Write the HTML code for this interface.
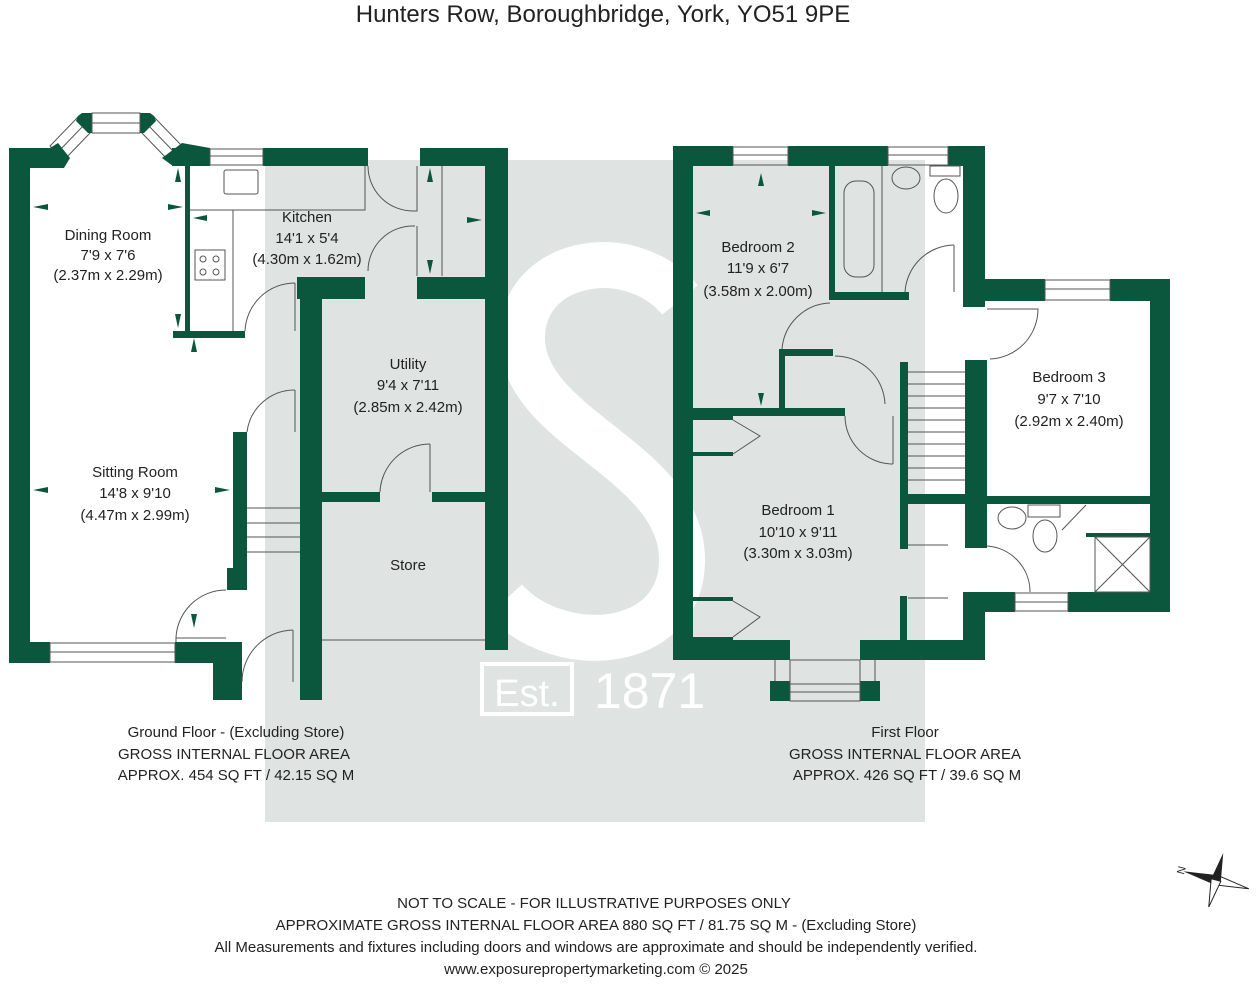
<!DOCTYPE html>
<html><head><meta charset="utf-8"><style>
html,body{margin:0;padding:0;background:#fff;}
svg{display:block;}
text{font-family:"Liberation Sans",sans-serif;fill:#222;}
</style></head><body>
<svg width="1256" height="984" viewBox="0 0 1256 984" xmlns="http://www.w3.org/2000/svg">
<!-- watermark -->
<rect x="265" y="160" width="660" height="662" fill="#dfe3e1"/>
<path d="M680 300 C630 240 520 260 522 340 C525 430 682 460 682 560 C682 650 560 660 505 600" fill="none" stroke="#fff" stroke-width="46"/>
<rect x="482" y="664" width="90" height="50" fill="none" stroke="#fff" stroke-width="4"/>
<text x="527" y="706" font-size="38" text-anchor="middle" style="fill:#fff">Est.</text>
<text x="594" y="708" font-size="50" style="fill:#fff">1871</text>

<text x="603" y="22" font-size="24" text-anchor="middle">Hunters Row, Boroughbridge, York, YO51 9PE</text>

<!-- bay windows -->
<g fill="#fff" stroke="#555" stroke-width="1">
<polygon points="50,146 78,117 92,131 64,160"/>
<line x1="57" y1="153" x2="85" y2="124"/>
<polygon points="182,146 154,117 140,131 168,160"/>
<line x1="175" y1="153" x2="147" y2="124"/>
</g>

<g fill="#0a573d">
<!-- ground floor -->
<rect x="9" y="148" width="21" height="515"/>
<polygon points="9,148 50,148 58,143 70,158 64,168 9,168"/>
<polygon points="78,116 82,113 92,113 92,133 88,133 76,121"/>
<polygon points="154,116 150,113 140,113 140,133 144,133 156,121"/>
<polygon points="182,143 210,148 210,166 173,166 162,158"/>
<rect x="9" y="642" width="41" height="21"/>
<rect x="175" y="642" width="58" height="21"/>
<rect x="213" y="642" width="29" height="58"/>
<rect x="172" y="148" width="38" height="18"/>
<rect x="263" y="148" width="105" height="18"/>
<rect x="185" y="165" width="5" height="168"/>
<rect x="173" y="331" width="72" height="7"/>
<rect x="420" y="148" width="88" height="18"/>
<rect x="485" y="148" width="23" height="502"/>
<rect x="297" y="277" width="68" height="22"/>
<rect x="417" y="277" width="70" height="22"/>
<rect x="300" y="277" width="22" height="423"/>
<rect x="322" y="492" width="58" height="10"/>
<rect x="432" y="492" width="55" height="10"/>
<rect x="233" y="432" width="14" height="158"/>
<rect x="227" y="568" width="14" height="22"/>
<!-- first floor -->
<rect x="673" y="146" width="20" height="514"/>
<rect x="673" y="146" width="60" height="20"/>
<rect x="788" y="146" width="100" height="20"/>
<rect x="948" y="146" width="37" height="20"/>
<rect x="963" y="146" width="22" height="161"/>
<rect x="963" y="279" width="82" height="22"/>
<rect x="1110" y="279" width="60" height="22"/>
<rect x="1150" y="279" width="20" height="333"/>
<rect x="963" y="592" width="52" height="20"/>
<rect x="1068" y="592" width="102" height="20"/>
<rect x="965" y="360" width="22" height="188"/>
<rect x="963" y="592" width="22" height="68"/>
<rect x="987" y="496" width="163" height="8"/>
<rect x="673" y="640" width="117" height="20"/>
<rect x="860" y="640" width="125" height="20"/>
<rect x="770" y="681" width="20" height="20"/>
<rect x="860" y="681" width="20" height="20"/>
<rect x="693" y="408" width="152" height="8"/>
<rect x="779" y="349" width="6" height="63"/>
<rect x="779" y="349" width="54" height="7"/>
<rect x="829" y="166" width="6" height="134"/>
<rect x="829" y="292" width="80" height="8"/>
<rect x="900" y="362" width="8" height="187"/>
<rect x="900" y="494" width="65" height="10"/>
<rect x="900" y="596" width="7" height="44"/>
<rect x="693" y="416" width="40" height="4"/>
<rect x="693" y="452" width="40" height="4"/>
<rect x="693" y="597" width="40" height="4"/>
<rect x="693" y="637" width="40" height="4"/>
<rect x="1086" y="533" width="64" height="4"/>
</g>

<g fill="none" stroke="#555" stroke-width="1">
<!-- windows -->
<rect x="50" y="643" width="125" height="19"/><line x1="50" y1="652" x2="175" y2="652"/>
<rect x="92" y="113" width="48" height="20"/><line x1="92" y1="123" x2="140" y2="123"/>
<rect x="210" y="149" width="53" height="16"/><line x1="210" y1="156" x2="263" y2="156"/>
<rect x="733" y="147" width="55" height="18"/><line x1="733" y1="155" x2="788" y2="155"/>
<rect x="888" y="147" width="60" height="18"/><line x1="888" y1="155" x2="948" y2="155"/>
<rect x="1045" y="280" width="65" height="20"/><line x1="1045" y1="289" x2="1110" y2="289"/>
<rect x="1015" y="593" width="53" height="18"/><line x1="1015" y1="602" x2="1068" y2="602"/>
<rect x="790" y="660" width="70" height="41"/><line x1="790" y1="684" x2="860" y2="684"/><line x1="790" y1="692" x2="860" y2="692"/>
<line x1="775" y1="660" x2="775" y2="681"/><line x1="875" y1="660" x2="875" y2="681"/>
<!-- kitchen -->
<path d="M190 210 H365 V166"/><path d="M233 210 V331"/>
<rect x="224" y="170" width="34" height="24" rx="2"/>
<rect x="195" y="250" width="30" height="30"/>
<circle cx="203" cy="259" r="3"/><circle cx="216" cy="259" r="3"/><circle cx="203" cy="272" r="3"/><circle cx="216" cy="272" r="3"/>
<path d="M368 166 A45 45 0 0 0 413 211 H417 V166"/>
<path d="M415 226 A45 45 0 0 0 368 271 M417 226 V276"/>
<path d="M295 283 A50 50 0 0 0 245 331"/><line x1="295" y1="283" x2="295" y2="331"/>
<line x1="442" y1="166" x2="442" y2="276"/>
<path d="M295 390 A48 48 0 0 0 247 432"/><line x1="295" y1="390" x2="295" y2="432"/>
<path d="M430 444 A50 50 0 0 0 380 492"/><line x1="430" y1="444" x2="430" y2="492"/>
<line x1="322" y1="640" x2="485" y2="640"/>
<path d="M226 590 A50 50 0 0 0 176 642"/><line x1="176" y1="638" x2="226" y2="638"/>
<path d="M293 630 A52 52 0 0 0 242 682"/><line x1="293" y1="630" x2="293" y2="682"/>
<line x1="247" y1="508" x2="300" y2="508"/><line x1="247" y1="523" x2="300" y2="523"/><line x1="247" y1="537" x2="300" y2="537"/><line x1="247" y1="552" x2="300" y2="552"/>
<!-- first floor fixtures -->
<rect x="844" y="181" width="30" height="96" rx="12"/><line x1="882" y1="166" x2="882" y2="292"/>
<ellipse cx="906" cy="178" rx="14" ry="11"/>
<rect x="930" y="166" width="30" height="10"/><ellipse cx="946" cy="196" rx="12" ry="17"/>
<path d="M954 245 A50 50 0 0 0 905 292"/><line x1="954" y1="245" x2="954" y2="292"/>
<path d="M830 303 A50 50 0 0 0 782 349"/>
<path d="M835 356 A50 50 0 0 1 885 404"/>
<path d="M845 416 A48 48 0 0 0 893 464"/><line x1="893" y1="416" x2="893" y2="464"/>
<path d="M987 309 H1038 A50 50 0 0 1 990 359"/>
<line x1="908" y1="372" x2="965" y2="372"/><line x1="908" y1="384" x2="965" y2="384"/><line x1="908" y1="396" x2="965" y2="396"/><line x1="908" y1="408" x2="965" y2="408"/><line x1="908" y1="420" x2="965" y2="420"/><line x1="908" y1="432" x2="965" y2="432"/><line x1="908" y1="444" x2="965" y2="444"/><line x1="908" y1="456" x2="965" y2="456"/><line x1="908" y1="468" x2="965" y2="468"/><line x1="908" y1="480" x2="965" y2="480"/>
<path d="M733 420 L760 436 L733 454"/><path d="M733 601 L760 617 L733 637"/>
<path d="M987 546 A46 46 0 0 1 1030 592"/>
<line x1="908" y1="545" x2="948" y2="545"/><line x1="908" y1="598" x2="948" y2="598"/>
<ellipse cx="1012" cy="518" rx="14" ry="11"/>
<rect x="1028" y="505" width="32" height="12"/><ellipse cx="1045" cy="536" rx="12" ry="16"/>
<path d="M1086 505 L1062 530"/>
<rect x="1095" y="537" width="55" height="55"/><line x1="1095" y1="537" x2="1150" y2="592"/><line x1="1150" y1="537" x2="1095" y2="592"/>
</g>

<g fill="#0a573d">
<polygon points="33,207 48,204 48,210"/><polygon points="183,207 168,204 168,210"/>
<polygon points="33,490 48,487 48,493"/><polygon points="230,490 215,487 215,493"/>
<polygon points="178,168 175,182 181,182"/><polygon points="178,328 175,314 181,314"/>
<polygon points="194,338 191,352 197,352"/><polygon points="194,628 191,614 197,614"/>
<polygon points="193,218 207,215 207,221"/>
<polygon points="430,168 427,182 433,182"/><polygon points="430,274 427,260 433,260"/><polygon points="482,220 467,217 467,223"/>
<polygon points="761,173 758,186 764,186"/><polygon points="761,406 758,393 764,393"/>
<polygon points="696,213 710,210 710,216"/><polygon points="826,213 812,210 812,216"/>
</g>

<g font-size="15" text-anchor="middle">
<text x="108" y="240">Dining Room</text><text x="108" y="260">7'9 x 7'6</text><text x="108" y="280">(2.37m x 2.29m)</text>
<text x="307" y="222">Kitchen</text><text x="307" y="243">14'1 x 5'4</text><text x="307" y="264">(4.30m x 1.62m)</text>
<text x="408" y="369">Utility</text><text x="408" y="390">9'4 x 7'11</text><text x="408" y="412">(2.85m x 2.42m)</text>
<text x="135" y="477">Sitting Room</text><text x="135" y="498">14'8 x 9'10</text><text x="135" y="520">(4.47m x 2.99m)</text>
<text x="408" y="570">Store</text>
<text x="758" y="252">Bedroom 2</text><text x="758" y="273">11'9 x 6'7</text><text x="758" y="296">(3.58m x 2.00m)</text>
<text x="1069" y="382">Bedroom 3</text><text x="1069" y="404">9'7 x 7'10</text><text x="1069" y="426">(2.92m x 2.40m)</text>
<text x="798" y="515">Bedroom 1</text><text x="798" y="537">10'10 x 9'11</text><text x="798" y="558">(3.30m x 3.03m)</text>
<text x="236" y="737">Ground Floor - (Excluding Store)</text><text x="234" y="759">GROSS INTERNAL FLOOR AREA</text><text x="236" y="780">APPROX. 454 SQ FT / 42.15 SQ M</text>
<text x="905" y="737">First Floor</text><text x="905" y="759">GROSS INTERNAL FLOOR AREA</text><text x="907" y="780">APPROX. 426 SQ FT / 39.6 SQ M</text>
<text x="594" y="908">NOT TO SCALE - FOR ILLUSTRATIVE PURPOSES ONLY</text>
<text x="596" y="930">APPROXIMATE GROSS INTERNAL FLOOR AREA 880 SQ FT / 81.75 SQ M - (Excluding Store)</text>
<text x="596" y="952">All Measurements and fixtures including doors and windows are approximate and should be independently verified.</text>
<text x="596" y="974">www.exposurepropertymarketing.com © 2025</text>
</g>
<!-- compass -->
<g transform="translate(1216,880) rotate(-75)">
<polygon points="0,-34 5,0 -5,0" fill="#222"/><polygon points="0,34 5,0 -5,0" fill="#fff" stroke="#222"/>
<polygon points="-28,0 0,5 0,-5" fill="#fff" stroke="#222"/><polygon points="28,0 0,5 0,-5" fill="#222"/>
</g>
<text x="1180" y="878" font-size="11" transform="rotate(-75 1180 874)">N</text>
</svg>
</body></html>
